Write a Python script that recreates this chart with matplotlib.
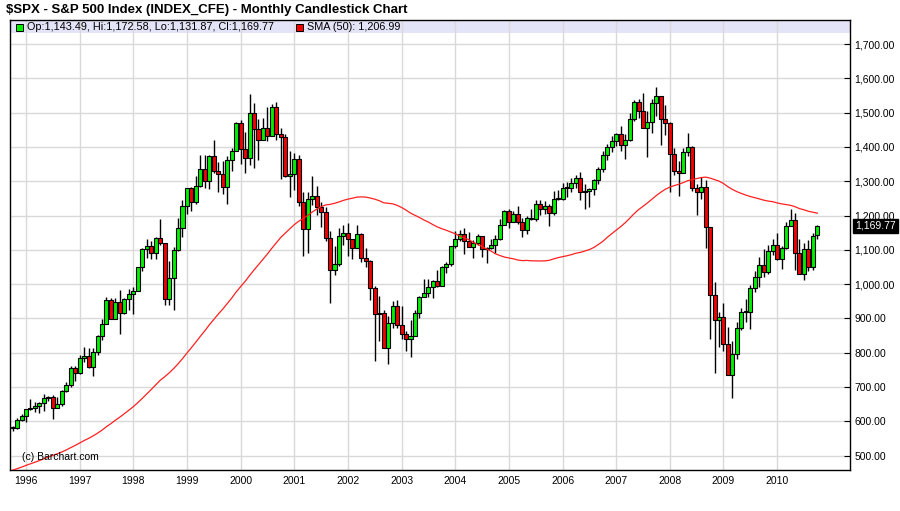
import numpy as np
import pandas as pd
import matplotlib
matplotlib.use("Agg")
import matplotlib.pyplot as plt
import matplotlib.transforms as mtransforms
from matplotlib.patches import Rectangle

# monthly candles, Oct 1995 .. Oct 2010
months = pd.period_range("1995-10", "2010-10", freq="M")

opens = [
    584.41, 581.50, 605.37,
    615.93, 636.02, 640.43, 645.50, 654.17, 669.12, 670.63, 639.95, 651.99, 687.31, 705.27, 757.02,
    740.74, 786.16, 790.82, 757.12, 801.34, 848.28, 885.14, 954.29, 899.47, 947.28, 914.62, 955.40,
    970.43, 980.28, 1049.34, 1101.75, 1111.75, 1090.82, 1133.84, 1120.67, 957.28, 1017.01, 1098.67, 1163.63,
    1229.23, 1279.64, 1238.33, 1286.37, 1335.18, 1301.84, 1372.71, 1328.72, 1320.41, 1282.71, 1362.93, 1388.91,
    1469.25, 1394.46, 1366.42, 1498.58, 1452.43, 1420.60, 1454.60, 1430.83, 1517.68, 1436.51, 1429.40, 1314.95,
    1320.28, 1366.01, 1239.94, 1160.33, 1249.46, 1255.82, 1224.38, 1211.23, 1133.58, 1040.94, 1059.78, 1139.45,
    1148.08, 1130.20, 1106.73, 1147.39, 1076.92, 1067.14, 989.82, 911.62, 916.07, 815.28, 885.76, 936.31,
    879.82, 855.70, 841.15, 848.18, 916.92, 963.59, 974.50, 990.31, 1008.01, 995.97, 1050.71, 1058.20,
    1111.92, 1131.13, 1144.94, 1126.21, 1107.30, 1120.68, 1140.84, 1101.72, 1104.24, 1114.58, 1130.20, 1173.82,
    1211.92, 1181.27, 1203.60, 1180.59, 1156.85, 1191.50, 1191.33, 1234.18, 1220.33, 1228.81, 1207.01, 1249.48,
    1248.29, 1280.08, 1280.66, 1294.83, 1310.61, 1270.09, 1270.20, 1276.66, 1303.82, 1335.85, 1377.94, 1400.63,
    1418.30, 1438.24, 1406.82, 1420.86, 1482.37, 1530.62, 1503.35, 1455.27, 1473.99, 1526.75, 1549.38, 1481.14,
    1468.36, 1378.55, 1330.63, 1322.70, 1385.59, 1400.38, 1280.00, 1267.38, 1282.83, 1166.36, 968.75, 896.24,
    903.25, 825.88, 735.09, 797.87, 872.81, 919.14, 919.32, 987.48, 1020.62, 1057.08, 1036.19, 1095.63,
    1115.10, 1073.87, 1104.49, 1169.43, 1186.69, 1089.41, 1030.71, 1101.60, 1049.33, 1143.49,
]

highs = [
    587.75, 608.50, 622.88,
    636.20, 664.20, 656.97, 656.70, 680.30, 673.30, 675.90, 670.70, 690.90, 714.10, 762.10, 761.75,
    794.70, 817.70, 814.90, 812.90, 851.90, 898.70, 962.50, 961.00, 960.00, 983.10, 959.10, 986.25,
    992.70, 1051.00, 1105.70, 1132.90, 1126.00, 1138.50, 1190.60, 1121.30, 1066.10, 1107.60, 1193.20, 1244.90,
    1276.10, 1283.80, 1316.50, 1375.10, 1375.90, 1376.80, 1420.30, 1357.00, 1358.00, 1373.20, 1397.30, 1473.10,
    1478.00, 1444.55, 1552.90, 1527.20, 1481.50, 1483.90, 1517.30, 1525.20, 1530.10, 1454.80, 1438.50, 1389.10,
    1383.40, 1376.40, 1267.40, 1269.30, 1315.90, 1286.60, 1239.80, 1226.30, 1155.40, 1110.60, 1163.40, 1173.60,
    1176.97, 1130.20, 1173.90, 1147.80, 1106.60, 1070.70, 994.50, 965.00, 924.00, 907.40, 951.00, 954.30,
    935.10, 864.60, 895.90, 924.20, 965.40, 1015.30, 1015.40, 1011.00, 1040.30, 1053.80, 1063.70, 1112.60,
    1155.40, 1158.98, 1163.20, 1150.60, 1127.70, 1146.30, 1140.84, 1109.70, 1131.50, 1142.10, 1188.50, 1217.30,
    1217.90, 1212.40, 1229.10, 1191.90, 1199.60, 1219.60, 1245.20, 1245.90, 1243.10, 1233.30, 1270.60, 1275.80,
    1294.90, 1297.60, 1310.90, 1318.20, 1326.70, 1290.70, 1280.40, 1306.70, 1340.30, 1389.45, 1407.90, 1431.80,
    1441.60, 1461.60, 1438.90, 1498.00, 1535.60, 1540.60, 1555.90, 1503.90, 1538.70, 1576.10, 1545.80, 1523.60,
    1471.80, 1396.00, 1359.70, 1397.00, 1440.20, 1404.05, 1292.20, 1313.20, 1303.00, 1167.00, 1007.50, 918.85,
    943.85, 875.00, 832.98, 888.70, 930.20, 956.20, 996.70, 1039.50, 1080.15, 1101.40, 1113.70, 1130.40,
    1150.45, 1112.40, 1180.20, 1219.80, 1206.30, 1131.20, 1120.95, 1129.20, 1148.90, 1172.58,
]

lows = [
    572.72, 579.00, 601.00,
    597.30, 633.70, 627.60, 624.00, 630.10, 658.00, 605.90, 639.50, 643.60, 684.30, 700.70, 716.70,
    737.00, 773.40, 755.40, 733.50, 793.20, 836.40, 884.00, 897.70, 898.00, 855.30, 913.30, 925.40,
    912.80, 980.30, 1037.00, 1076.70, 1074.40, 1074.20, 1114.30, 939.98, 939.98, 923.30, 1098.00, 1136.90,
    1205.50, 1211.90, 1234.60, 1282.10, 1281.40, 1277.40, 1325.00, 1268.70, 1264.00, 1233.70, 1329.00, 1387.40,
    1350.10, 1325.10, 1346.60, 1339.40, 1361.10, 1420.00, 1416.50, 1431.40, 1419.40, 1305.80, 1311.00, 1254.10,
    1274.60, 1228.30, 1081.20, 1091.99, 1232.00, 1203.00, 1165.50, 1124.90, 944.75, 1026.80, 1054.30, 1114.50,
    1081.70, 1074.40, 1106.70, 1063.50, 1048.96, 952.90, 775.70, 833.40, 815.30, 768.60, 872.70, 871.90,
    840.30, 806.30, 788.90, 847.90, 902.80, 963.40, 962.10, 960.80, 990.40, 995.97, 1031.20, 1053.40,
    1105.10, 1124.40, 1087.20, 1107.20, 1076.30, 1113.30, 1078.80, 1060.70, 1101.30, 1090.20, 1127.60, 1173.80,
    1163.75, 1180.95, 1176.80, 1136.20, 1146.20, 1188.30, 1183.55, 1201.10, 1205.40, 1168.20, 1201.10, 1246.60,
    1245.70, 1253.60, 1268.40, 1280.70, 1245.30, 1219.30, 1224.50, 1261.30, 1290.90, 1327.10, 1360.98, 1385.90,
    1403.97, 1389.10, 1363.98, 1416.40, 1476.70, 1484.20, 1454.25, 1370.60, 1439.30, 1489.60, 1406.10, 1435.70,
    1270.05, 1316.75, 1256.98, 1324.35, 1373.10, 1272.00, 1200.40, 1247.50, 1106.40, 839.80, 741.00, 815.70,
    804.20, 734.50, 666.79, 783.30, 866.10, 888.90, 869.30, 978.50, 991.97, 1020.20, 1029.40, 1085.90,
    1071.60, 1044.50, 1101.40, 1170.70, 1040.80, 1028.30, 1010.90, 1039.70, 1041.20, 1131.87,
]

closes = [
    581.50, 605.37, 615.93,
    636.02, 640.43, 645.50, 654.17, 669.12, 670.63, 639.95, 651.99, 687.31, 705.27, 757.02, 740.74,
    786.16, 790.82, 757.12, 801.34, 848.28, 885.14, 954.29, 899.47, 947.28, 914.62, 955.40, 970.43,
    980.28, 1049.34, 1101.75, 1111.75, 1090.82, 1133.84, 1120.67, 957.28, 1017.01, 1098.67, 1163.63, 1229.23,
    1279.64, 1238.33, 1286.37, 1335.18, 1301.84, 1372.71, 1328.72, 1320.41, 1282.71, 1362.93, 1388.91, 1469.25,
    1394.46, 1366.42, 1498.58, 1452.43, 1420.60, 1454.60, 1430.83, 1517.68, 1436.51, 1429.40, 1314.95, 1320.28,
    1366.01, 1239.94, 1160.33, 1249.46, 1255.82, 1224.38, 1211.23, 1133.58, 1040.94, 1059.78, 1139.45, 1148.08,
    1130.20, 1106.73, 1147.39, 1076.92, 1067.14, 989.82, 911.62, 916.07, 815.28, 885.76, 936.31, 879.82,
    855.70, 841.15, 848.18, 916.92, 963.59, 974.50, 990.31, 1008.01, 995.97, 1050.71, 1058.20, 1111.92,
    1131.13, 1144.94, 1126.21, 1107.30, 1120.68, 1140.84, 1101.72, 1104.24, 1114.58, 1130.20, 1173.82, 1211.92,
    1181.27, 1203.60, 1180.59, 1156.85, 1191.50, 1191.33, 1234.18, 1220.33, 1228.81, 1207.01, 1249.48, 1248.29,
    1280.08, 1280.66, 1294.83, 1310.61, 1270.09, 1270.20, 1276.66, 1303.82, 1335.85, 1377.94, 1400.63, 1418.30,
    1438.24, 1406.82, 1420.86, 1482.37, 1530.62, 1503.35, 1455.27, 1473.99, 1526.75, 1549.38, 1481.14, 1468.36,
    1378.55, 1330.63, 1322.70, 1385.59, 1400.38, 1280.00, 1267.38, 1282.83, 1166.36, 968.75, 896.24, 903.25,
    825.88, 735.09, 797.87, 872.81, 919.14, 919.32, 987.48, 1020.62, 1057.08, 1036.19, 1095.63, 1115.10,
    1073.87, 1104.49, 1169.43, 1186.69, 1089.41, 1030.71, 1101.60, 1049.33, 1141.20, 1169.77,
]

# 50 month simple moving average of the close, one value per candle
sma50 = [
    457.8, 462.1, 466.6,
    471.8, 476.3, 481.0, 485.8, 491.1, 496.3, 500.8, 505.6, 510.9, 516.7, 523.5, 529.9,
    537.0, 544.1, 550.5, 557.7, 565.6, 574.5, 584.6, 593.6, 603.5, 612.6, 622.5, 632.5,
    642.9, 654.6, 667.0, 679.9, 692.8, 706.4, 719.7, 730.0, 741.1, 753.6, 767.6, 782.8,
    799.3, 814.9, 831.2, 848.1, 864.2, 881.3, 897.2, 912.7, 927.2, 943.2, 959.3, 977.0,
    992.8, 1007.8, 1025.1, 1041.3, 1056.8, 1072.8, 1088.0, 1105.0, 1120.9, 1136.5, 1149.0, 1161.3,
    1173.5, 1183.5, 1191.0, 1200.1, 1210.1, 1218.6, 1225.8, 1230.8, 1232.5, 1235.7, 1239.6, 1244.3,
    1247.8, 1250.5, 1253.8, 1254.4, 1253.7, 1251.2, 1247.7, 1243.3, 1237.2, 1235.8, 1234.2, 1229.8,
    1223.6, 1215.9, 1207.2, 1200.8, 1194.3, 1187.1, 1180.9, 1173.6, 1166.9, 1161.6, 1157.1, 1152.0,
    1146.9, 1140.4, 1135.0, 1129.9, 1122.3, 1116.1, 1109.7, 1102.7, 1096.4, 1088.6, 1083.4, 1079.0,
    1076.3, 1074.0, 1070.3, 1068.6, 1069.2, 1068.1, 1067.7, 1067.6, 1067.9, 1069.4, 1073.6, 1077.3,
    1080.1, 1082.8, 1086.1, 1090.2, 1092.6, 1096.5, 1100.7, 1107.0, 1115.4, 1124.7, 1136.4, 1147.0,
    1157.1, 1167.6, 1178.9, 1191.7, 1205.4, 1217.1, 1227.0, 1236.9, 1247.7, 1258.5, 1268.2, 1276.6,
    1283.0, 1287.3, 1291.2, 1296.0, 1301.5, 1304.9, 1307.9, 1310.7, 1312.0, 1309.3, 1304.9, 1300.4,
    1293.4, 1283.9, 1276.2, 1269.6, 1264.4, 1259.6, 1255.5, 1252.1, 1248.6, 1244.9, 1242.2, 1240.4,
    1236.9, 1234.0, 1231.8, 1229.9, 1225.8, 1220.2, 1216.8, 1212.4, 1209.7, 1206.99,
]

plt.rcParams['font.family'] = ['Liberation Sans', 'DejaVu Sans']

o = np.array(opens)
h = np.array(highs)
l = np.array(lows)
c = np.array(closes)
x = np.arange(len(months))
up = c >= o

fig = plt.figure(figsize=(9, 5.11), dpi=100)
ax = fig.add_axes([10 / 900, 41 / 511, 840 / 900, 450 / 511])

ax.set_xlim(-0.58, 187.3)
ax.set_ylim(458.3, 1770)

ax.vlines(x, l, h, color='black', lw=1.0, zorder=2)
body = np.abs(c - o)
body = np.where(body < 2, 2, body)
ax.bar(x, body, bottom=np.minimum(o, c), width=0.9,
       color=np.where(up, '#00F000', '#F00000'), edgecolor='black', lw=0.8, zorder=3)
ax.plot(x, sma50, color='#FF2020', lw=0.9, zorder=4)

# grid: one vertical line per January, one horizontal per 100 points
jan = [i for i, m in enumerate(months) if m.month == 1]
ax.set_xticks(jan)
ax.set_xticklabels([str(months[i].year) for i in jan])
yt = np.arange(500, 1800, 100)
ax.set_yticks(yt)
ax.set_yticklabels([f"{v:,.2f}" for v in yt])
ax.yaxis.tick_right()
ax.grid(True, color='#D9D9D9', lw=1.0)
ax.set_axisbelow(True)
ax.tick_params(axis='y', direction='in', length=4, width=0.8, pad=3, labelsize=7.5)
ax.tick_params(axis='x', length=0, pad=4, labelsize=7.5)
for s in ax.spines.values():
    s.set_linewidth(1.0)

# legend strip at the top
ax.add_patch(Rectangle((0, 1 - 13 / 450), 1, 13 / 450, transform=ax.transAxes,
                       facecolor='#E4E4F8', edgecolor='none', zorder=0.2))
ax.add_patch(Rectangle((6 / 840, 1 - 11 / 450), 7 / 840, 7 / 450, transform=ax.transAxes,
                       facecolor='#00F000', edgecolor='black', lw=0.7, zorder=5))
ax.text(17 / 840, 1 - 6.5 / 450,
        f"Op:{opens[-1]:,.2f}, Hi:{highs[-1]:,.2f}, Lo:{lows[-1]:,.2f}, Cl:{closes[-1]:,.2f}",
        transform=ax.transAxes, fontsize=7.8, va='center', zorder=5)
ax.add_patch(Rectangle((286 / 840, 1 - 11 / 450), 7 / 840, 7 / 450, transform=ax.transAxes,
                       facecolor='#F00000', edgecolor='black', lw=0.7, zorder=5))
ax.text(297 / 840, 1 - 6.5 / 450, f"SMA (50): {sma50[-1]:,.2f}",
        transform=ax.transAxes, fontsize=7.8, va='center', zorder=5)

ax.text(12 / 840, 13 / 450, "(c) Barchart.com", fontsize=7.5, va='center',
        transform=ax.transAxes, zorder=5)

# last price marker on the price axis
trans = mtransforms.blended_transform_factory(ax.transAxes, ax.transData)
ax.text(1.006, closes[-1], f"{closes[-1]:,.2f}", transform=trans, color='white',
        fontsize=7.5, va='center', ha='left',
        bbox=dict(boxstyle='square,pad=0.2', fc='black', ec='black'), zorder=6, clip_on=False)

fig.text(6 / 900, 1 - 10 / 511, "$SPX - S&P 500 Index (INDEX_CFE) - Monthly Candlestick Chart",
         fontsize=9.5, fontweight='bold', va='center')

fig.savefig("out.png", dpi=100)
